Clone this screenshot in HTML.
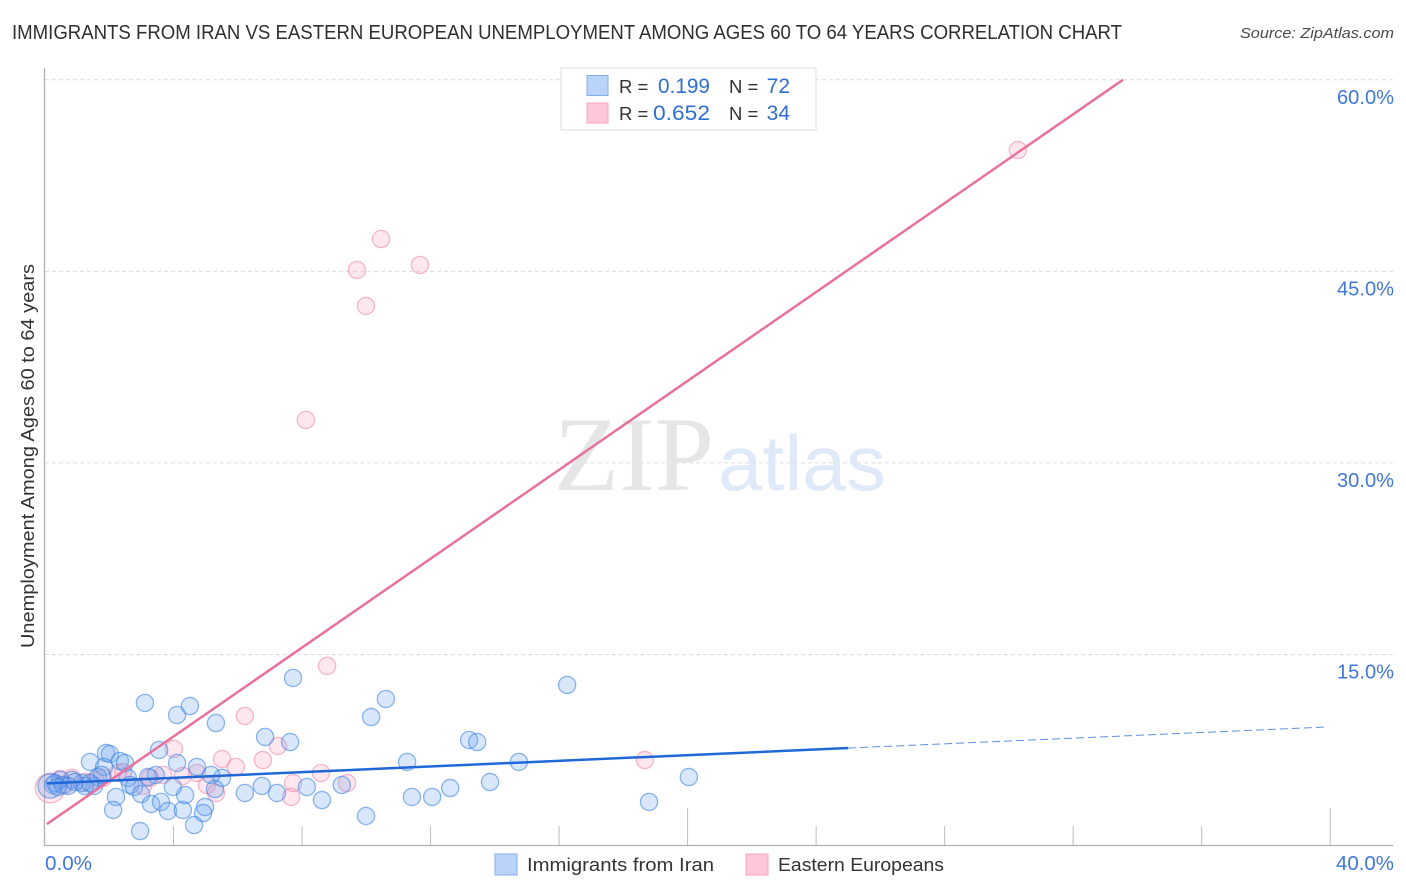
<!DOCTYPE html>
<html lang="en">
<head>
<meta charset="utf-8">
<title>Immigrants from Iran vs Eastern European Unemployment Chart</title>
<style>
html,body{margin:0;padding:0;background:#fff;width:1406px;height:892px;overflow:hidden}
svg{display:block;font-family:"Liberation Sans",sans-serif}
</style>
</head>
<body>
<svg id="chart" width="1406" height="892" viewBox="0 0 1406 892" xmlns="http://www.w3.org/2000/svg">
  <rect x="0" y="0" width="1406" height="892" fill="#ffffff"/>
  <text x="12" y="39" font-size="20" fill="#2f2f2f" textLength="1110" lengthAdjust="spacingAndGlyphs">IMMIGRANTS FROM IRAN VS EASTERN EUROPEAN UNEMPLOYMENT AMONG AGES 60 TO 64 YEARS CORRELATION CHART</text>
  <text x="1394" y="38" font-size="15" font-style="italic" fill="#4a4a4a" text-anchor="end" textLength="154" lengthAdjust="spacingAndGlyphs">Source: ZipAtlas.com</text>
  <g id="grid"></g>
  <g>
    <text x="554" y="490" font-family="'Liberation Serif',serif" font-size="106" fill="#e6e6e6" textLength="160" lengthAdjust="spacingAndGlyphs">ZIP</text>
    <text x="718" y="490" font-size="78" fill="#dfeaf9" textLength="168" lengthAdjust="spacingAndGlyphs">atlas</text>
  </g>
  <g id="axes"></g>
  <g id="points-pink"></g>
  <g id="points-blue"></g>
  <g id="trends"></g>
  <text transform="translate(34,648) rotate(-90)" font-size="18" fill="#333333" textLength="384" lengthAdjust="spacingAndGlyphs">Unemployment Among Ages 60 to 64 years</text>
  <g id="y-labels"></g>
  <g id="x-labels"></g>
  <g>
    <rect x="561" y="68" width="255" height="62" fill="#ffffff" stroke="#dddddd" stroke-width="1"/>
    <rect x="587" y="75.5" width="21" height="20" fill="#b9d4f8" stroke="#82aee8" stroke-width="1"/>
    <rect x="587" y="103" width="21" height="20" fill="#fdc8d9" stroke="#f3a6be" stroke-width="1"/>
    <text x="619" y="93" font-size="18.5" fill="#333333">R =</text>
    <text x="710" y="93" font-size="21" fill="#2f6fd0" text-anchor="end" textLength="52" lengthAdjust="spacingAndGlyphs">0.199</text>
    <text x="729" y="93" font-size="18.5" fill="#333333">N =</text>
    <text x="790" y="93" font-size="21" fill="#2f6fd0" text-anchor="end">72</text>
    <text x="619" y="120" font-size="18.5" fill="#333333">R =</text>
    <text x="710" y="120" font-size="21" fill="#2f6fd0" text-anchor="end" textLength="57" lengthAdjust="spacingAndGlyphs">0.652</text>
    <text x="729" y="120" font-size="18.5" fill="#333333">N =</text>
    <text x="790" y="120" font-size="21" fill="#2f6fd0" text-anchor="end">34</text>
  </g>
  <g>
    <rect x="495" y="854" width="22" height="21" fill="#b9d4f8" stroke="#82aee8" stroke-width="1"/>
    <text x="527" y="871" font-size="18.5" fill="#333333" textLength="187" lengthAdjust="spacingAndGlyphs">Immigrants from Iran</text>
    <rect x="746" y="854" width="22" height="21" fill="#fdc8d9" stroke="#f3a6be" stroke-width="1"/>
    <text x="778" y="871" font-size="18.5" fill="#333333" textLength="166" lengthAdjust="spacingAndGlyphs">Eastern Europeans</text>
  </g>
</svg>
<script>
// Chart data (percent units)
const yTickValues = [15, 30, 45, 60];
const yTickLabels = ["15.0%", "30.0%", "45.0%", "60.0%"];
const xTickValues = [0, 4, 8, 12, 16, 20, 24, 28, 32, 36, 40];
const xMajorTicks = [20, 40];
const xEndValues = [0, 40];
const xEndLabels = ["0.0%", "40.0%"];

const iranX = [3.11,4.11,4.51,5.32,7.72,6.85,7.63,10.15,10.61,16.25,13.20,13.45,11.27,14.75,20.04,18.80,13.85,12.61,12.05,11.42,9.99,8.62,9.24,7.22,6.75,6.22,8.15,5.51,5.17,5.29,4.73,4.11,3.55,1.40,1.90,2.02,2.33,2.49,1.84,3.45,3.21,2.58,2.65,2.77,2.99,2.21,2.12,3.30,3.61,3.83,4.29,4.36,3.98,4.98,4.92,4.64,2.96,1.53,1.65,1.77,1.15,1.24,0.84,0.93,0.47,0.25,0.31,0.16,0.56,0.72,0.40,1.40];
const iranY = [11.20,10.26,10.96,9.63,13.16,8.54,8.14,10.10,11.51,12.61,8.30,8.14,6.58,6.58,5.40,3.45,5.01,4.54,3.84,3.84,2.35,3.60,4.78,4.15,4.70,4.15,4.62,5.33,5.56,4.46,6.19,6.50,7.52,6.58,7.28,7.20,6.66,6.50,6.19,5.56,5.40,5.33,4.78,4.62,4.07,3.84,2.82,3.29,3.45,2.74,2.82,3.99,4.62,3.05,2.58,1.64,1.17,4.70,5.40,5.56,4.93,4.70,5.17,5.01,5.17,4.78,4.93,4.70,4.78,4.70,4.62,4.93];
const iranWeight = [1,1,1,1,1,1,1,1,1,1,1,1,1,1,1,1,1,1,1,1,1,1,1,1,1,1,1,1,1,1,1,1,1,1,1,1,1,1,1,1,1,1,1,1,1,1,1,1,1,1,1,1,1,1,1,1,1,1,1,1,1,1,1,1,1,1,1,2,1,1,1,1];

const easternX = [30.28,10.46,9.71,11.67,9.99,8.12,8.78,6.22,4.01,5.51,7.25,6.78,5.94,8.59,7.72,7.66,9.40,18.67,4.73,4.29,3.67,5.04,5.32,3.05,2.43,2.27,1.81,0.47,0.84,1.24,0.16,0.62,3.27,1.56];
const easternY = [54.50,47.53,45.11,45.50,42.29,33.36,14.10,10.18,7.60,6.81,7.83,6.73,6.19,5.72,4.93,3.84,4.93,6.73,5.72,5.48,5.56,4.78,4.15,4.70,5.79,5.72,5.33,5.25,5.33,5.01,4.54,4.78,5.33,5.17];
const easternWeight = [1,1,1,1,1,1,1,1,1,1,1,1,1,1,1,1,1,1,1,1,1,1,1,1,1,1,1,1,1,1,3,1,1,1];

const iranTrendX = [0.06, 25.0];
const iranTrendY = [4.90, 7.67];
const iranTrendDashX = [25.0, 39.9];
const iranTrendDashY = [7.67, 9.32];
const easternTrendX = [0.06, 33.55];
const easternTrendY = [1.72, 60.0];

const NS = 'http://www.w3.org/2000/svg';
function xScale(v) { return 45 + v * 32.13; }
function yScale(v) { return 846 - v * 12.77; }
function rScale(w) { return 8.6 * Math.sqrt(w); }
function make(tag, attrs, parent) {
  const el = document.createElementNS(NS, tag);
  for (const k in attrs) el.setAttribute(k, attrs[k]);
  parent.appendChild(el);
  return el;
}

const grid = document.getElementById('grid');
yTickValues.forEach(function (v) {
  const el = make('line', {x1: 45, x2: 1393, y1: yScale(v), y2: yScale(v), stroke: '#dcdcdc', 'stroke-width': 1, 'stroke-dasharray': '4 3'}, grid);
  
  
});

const axes = document.getElementById('axes');
const yAxisLine = make('line', {x1: 44.5, x2: 44.5, y1: 68, y2: 846, stroke: '#b0b0b0', 'stroke-width': 1.3}, axes);


const xAxisLine = make('line', {x1: 44, x2: 1393, y1: 845.5, y2: 845.5, stroke: '#b0b0b0', 'stroke-width': 1.3}, axes);


xTickValues.slice(1).forEach(function (v) {
  const top = xMajorTicks.indexOf(v) >= 0 ? 808 : 826;
  const el = make('line', {x1: xScale(v), x2: xScale(v), y1: top, y2: 845, stroke: '#bdbdbd', 'stroke-width': 1}, axes);
  
  
});

const yLabels = document.getElementById('y-labels');
yTickValues.forEach(function (v, i) {
  const el = make('text', {x: 1394, y: yScale(v) + 24, 'font-size': 20, fill: '#3f78d8', 'text-anchor': 'end', textLength: 57, lengthAdjust: 'spacingAndGlyphs'}, yLabels);
  el.textContent = yTickLabels[i];
  
  
});

const xLabels = document.getElementById('x-labels');
xEndValues.forEach(function (v, i) {
  const el = make('text', {x: i === 0 ? xScale(v) : 1394, y: 870, 'font-size': 20, fill: '#3f78d8', 'text-anchor': i === 0 ? 'start' : 'end', textLength: i === 0 ? 47 : 58, lengthAdjust: 'spacingAndGlyphs'}, xLabels);
  el.textContent = xEndLabels[i];
  
  
});

const pinkGroup = document.getElementById('points-pink');
easternX.forEach(function (v, i) {
  const el = make('circle', {cx: xScale(v), cy: yScale(easternY[i]), r: rScale(easternWeight[i]), fill: 'rgba(250,165,192,0.27)', stroke: 'rgba(236,130,165,0.55)', 'stroke-width': 1.3}, pinkGroup);
  
  
});

const blueGroup = document.getElementById('points-blue');
iranX.forEach(function (v, i) {
  const el = make('circle', {cx: xScale(v), cy: yScale(iranY[i]), r: rScale(iranWeight[i]), fill: 'rgba(110,165,240,0.27)', stroke: 'rgba(50,125,225,0.55)', 'stroke-width': 1.3}, blueGroup);
  
  
});

const trends = document.getElementById('trends');
const easternLine = make('line', {x1: xScale(easternTrendX[0]), y1: yScale(easternTrendY[0]), x2: xScale(easternTrendX[1]), y2: yScale(easternTrendY[1]), stroke: '#e8709d', 'stroke-width': 2.5}, trends);


const iranLine = make('line', {x1: xScale(iranTrendX[0]), y1: yScale(iranTrendY[0]), x2: xScale(iranTrendX[1]), y2: yScale(iranTrendY[1]), stroke: '#2068d8', 'stroke-width': 2.5}, trends);


const iranDash = make('line', {x1: xScale(iranTrendDashX[0]), y1: yScale(iranTrendDashY[0]), x2: xScale(iranTrendDashX[1]), y2: yScale(iranTrendDashY[1]), stroke: '#5b90de', 'stroke-width': 1, 'stroke-dasharray': '8 4'}, trends);


</script>
</body>
</html>
